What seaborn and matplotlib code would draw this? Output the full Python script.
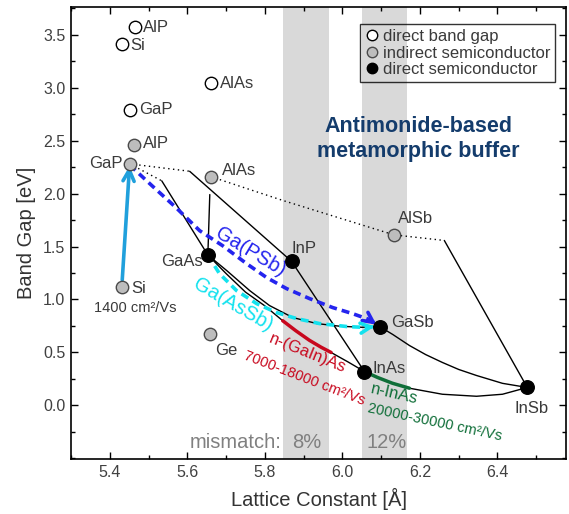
import matplotlib.pyplot as plt
import numpy as np
import pandas as pd
import seaborn as sns
from matplotlib.lines import Line2D
from matplotlib.ticker import MultipleLocator

# binaries: lattice constant [A] and band gap [eV]
open_names = ["AlP", "Si", "GaP", "AlAs"]
open_a = [5.464, 5.431, 5.451, 5.660]
open_eg = [3.57, 3.41, 2.79, 3.04]

gray_names = ["AlP", "GaP", "AlAs", "Si", "Ge", "AlSb"]
gray_a = [5.462, 5.451, 5.660, 5.431, 5.658, 6.133]
gray_eg = [2.46, 2.28, 2.16, 1.12, 0.67, 1.61]

black_names = ["GaAs", "InP", "GaSb", "InAs", "InSb"]
black_a = [5.653, 5.869, 6.096, 6.057, 6.477]
black_eg = [1.42, 1.36, 0.745, 0.32, 0.17]

# ternary lines
gaasp_dot_a = [5.451, 5.534]
gaasp_dot_eg = [2.28, 2.12]
gaasp_a = [5.534, 5.653]
gaasp_eg = [2.12, 1.42]
gainp_dot_a = [5.451, 5.606]
gainp_dot_eg = [2.28, 2.21]
gainp_a = [5.606, 5.869]
gainp_eg = [2.21, 1.36]
inasp_a = [5.869, 6.057]
inasp_eg = [1.36, 0.32]
algaas_a = [5.658, 5.653]
algaas_eg = [1.99, 1.42]
alassb_dot_a = [5.660, 5.846, 6.133, 6.263]
alassb_dot_eg = [2.16, 1.935, 1.61, 1.557]
alinsb_a = [6.263, 6.477]
alinsb_eg = [1.557, 0.17]

gaassb_a = [5.653, 5.702, 5.761, 5.812, 5.872, 5.934, 5.993, 6.050, 6.096]
gaassb_eg = [1.42, 1.272, 1.084, 0.943, 0.83, 0.773, 0.748, 0.738, 0.745]
gainas_a = [5.653, 5.700, 5.750, 5.800, 5.846, 5.880, 5.915, 5.945, 5.971, 6.015, 6.057]
gainas_eg = [1.42, 1.245, 1.07, 0.94, 0.80, 0.705, 0.615, 0.55, 0.50, 0.41, 0.32]
inassb_a = [6.057, 6.091, 6.129, 6.173, 6.258, 6.346, 6.413, 6.477]
inassb_eg = [0.32, 0.264, 0.21, 0.163, 0.106, 0.087, 0.106, 0.17]
gainsb_a = [6.096, 6.130, 6.173, 6.215, 6.258, 6.300, 6.346, 6.413, 6.477]
gainsb_eg = [0.745, 0.67, 0.566, 0.48, 0.406, 0.34, 0.283, 0.209, 0.17]

# highlighted high-mobility ranges
red_a = [5.846, 5.880, 5.915, 5.945, 5.971]
red_eg = [0.80, 0.705, 0.615, 0.55, 0.50]
green_a = [6.057, 6.091, 6.129, 6.173]
green_eg = [0.32, 0.264, 0.21, 0.163]

# buffer paths
gapsb_a = [5.451, 5.51, 5.57, 5.632, 5.691, 5.753, 5.805, 5.856, 5.915, 5.975, 6.026, 6.070, 6.088]
gapsb_eg = [2.27, 2.07, 1.87, 1.649, 1.508, 1.338, 1.206, 1.103, 1.009, 0.924, 0.867, 0.81, 0.763]
cyan_a = [5.653, 5.683, 5.727, 5.779, 5.830, 5.882, 5.941, 6.011, 6.062, 6.083]
cyan_eg = [1.42, 1.244, 1.084, 0.961, 0.877, 0.82, 0.773, 0.745, 0.736, 0.745]

# lattice mismatch bands
band_8 = [5.848, 5.965]
band_12 = [6.050, 6.168]

sns.set_theme(style="ticks")
plt.rcParams["font.family"] = ["Liberation Sans", "DejaVu Sans"]

fig = plt.figure(figsize=(5.69, 5.14), dpi=100)
ax = fig.add_axes([0.1248, 0.107, 0.870, 0.8794])

ax.axvspan(*band_8, color="#d9d9d9", lw=0, zorder=0)
ax.axvspan(*band_12, color="#d9d9d9", lw=0, zorder=0)

dot = (0, (1, 2.5))
for xs, ys, ls in [
    (gaasp_dot_a, gaasp_dot_eg, dot),
    (gainp_dot_a, gainp_dot_eg, dot),
    (alassb_dot_a, alassb_dot_eg, dot),
    (gaasp_a, gaasp_eg, "-"),
    (gainp_a, gainp_eg, "-"),
    (inasp_a, inasp_eg, "-"),
    (algaas_a, algaas_eg, "-"),
    (alinsb_a, alinsb_eg, "-"),
    (gaassb_a, gaassb_eg, "-"),
    (gainas_a, gainas_eg, "-"),
    (inassb_a, inassb_eg, "-"),
    (gainsb_a, gainsb_eg, "-"),
]:
    sns.lineplot(x=xs, y=ys, sort=False, estimator=None, color="black",
                 lw=1.0, linestyle=ls, ax=ax, zorder=2)

sns.lineplot(x=red_a, y=red_eg, sort=False, estimator=None, color="#c8081e",
             lw=2.5, ax=ax, zorder=3)
sns.lineplot(x=green_a, y=green_eg, sort=False, estimator=None, color="#0f6e38",
             lw=2.5, ax=ax, zorder=3)

blue = "#2424ee"
cyan = "#14e2ee"
sns.lineplot(x=gapsb_a, y=gapsb_eg, sort=False, estimator=None, color=blue,
             lw=2.6, linestyle=(0, (2.2, 1.4)), ax=ax, zorder=4)
sns.lineplot(x=cyan_a, y=cyan_eg, sort=False, estimator=None, color=cyan,
             lw=2.6, linestyle=(0, (2.2, 1.4)), ax=ax, zorder=4)
for xs, ys, c in [(gapsb_a, gapsb_eg, blue), (cyan_a, cyan_eg, cyan)]:
    ax.annotate("", xy=(xs[-1], ys[-1]), xytext=(xs[-2], ys[-2]),
                arrowprops=dict(arrowstyle="->", color=c, lw=2.6,
                                mutation_scale=18, shrinkA=0, shrinkB=0),
                zorder=4)

# Si -> GaP arrow
ax.annotate("", xy=(gray_a[1], gray_eg[1] - 0.02), xytext=(gray_a[3], gray_eg[3]),
            arrowprops=dict(arrowstyle="->", color="#20a0dc", lw=2.6,
                            mutation_scale=20, shrinkA=5, shrinkB=0),
            zorder=5)

sns.scatterplot(x=open_a, y=open_eg, s=80, color="white", edgecolor="black",
                linewidth=1.0, ax=ax, zorder=6)
sns.scatterplot(x=gray_a, y=gray_eg, s=80, color="#bdbdbd", edgecolor="#4a4a4a",
                linewidth=1.0, ax=ax, zorder=6)
sns.scatterplot(x=black_a, y=black_eg, s=95, color="black", edgecolor="black",
                linewidth=1.0, ax=ax, zorder=6)

label_color = "#3a3a3a"
open_off = [(6, 0, "left"), (6, -1, "left"), (7, 0, "left"), (7, 0, "left")]
gray_off = [(6.5, 1, "left"), (-5, 0, "right"), (8, 4.5, "left"),
            (7, -1, "left"), (3.5, -11.5, "left"), (3, 12, "left")]
black_off = [(-3.5, -4.5, "right"), (0, 9.5, "left"), (8, 3, "left"),
             (6, 2, "left"), (3, -15, "center")]
for names, xs, ys, offs in [(open_names, open_a, open_eg, open_off),
                            (gray_names, gray_a, gray_eg, gray_off),
                            (black_names, black_a, black_eg, black_off)]:
    for n, x, y, (dx, dy, ha) in zip(names, xs, ys, offs):
        ax.annotate(n, (x, y), xytext=(dx, dy), textcoords="offset points",
                    ha=ha, va="center", fontsize=12, color=label_color, zorder=7)

ax.annotate("1400 cm²/Vs", (gray_a[3], gray_eg[3]), xytext=(10, -15),
            textcoords="offset points", ha="center", va="center",
            fontsize=10.5, color=label_color)

ax.text(5.763, 1.444, "Ga(PSb)", color=blue, fontsize=14.5, rotation=-31,
        ha="center", va="center", rotation_mode="anchor")
ax.text(5.718, 0.952, "Ga(AsSb)", color=cyan, fontsize=14.5, rotation=-30,
        ha="center", va="center", rotation_mode="anchor")
ax.text(5.911, 0.495, "n-(GaIn)As", color="#c8081e", fontsize=12, rotation=-22,
        ha="center", va="center", rotation_mode="anchor")
ax.text(5.903, 0.26, "7000-18000 cm²/Vs", color="#c8081e", fontsize=10.5,
        rotation=-21, ha="center", va="center", rotation_mode="anchor")
ax.text(6.135, 0.11, "n-InAs", color="#0f6e38", fontsize=12, rotation=-13,
        ha="center", va="center", rotation_mode="anchor")
ax.text(6.238, -0.16, "20000-30000 cm²/Vs", color="#0f6e38", fontsize=10.5,
        rotation=-12, ha="center", va="center", rotation_mode="anchor")

ax.text(5.725, -0.35, "mismatch:", color="#808080", fontsize=14.5,
        ha="center", va="center")
ax.text(5.908, -0.35, "8%", color="#808080", fontsize=14.5, ha="center", va="center")
ax.text(6.114, -0.35, "12%", color="#808080", fontsize=14.5, ha="center", va="center")

ax.text(6.196, 2.51, "Antimonide-based\nmetamorphic buffer", color="#143c6c",
        fontsize=15.5, fontweight="bold", ha="center", va="center", linespacing=1.25)

handles = [
    Line2D([], [], ls="", marker="o", ms=7.5, mfc="white", mec="black", mew=1.0),
    Line2D([], [], ls="", marker="o", ms=7.5, mfc="#bdbdbd", mec="#4a4a4a", mew=1.0),
    Line2D([], [], ls="", marker="o", ms=7.5, mfc="black", mec="black", mew=1.0),
]
leg = ax.legend(handles, ["direct band gap", "indirect semiconductor",
                          "direct semiconductor"],
                loc="upper right", bbox_to_anchor=(0.978, 0.962), borderaxespad=0,
                fontsize=12, handlelength=0.8, handletextpad=0.25,
                labelspacing=0.08, borderpad=0.3, fancybox=False,
                frameon=True, edgecolor="black", facecolor="none")
leg.get_frame().set_linewidth(1.0)
for t in leg.get_texts():
    t.set_color(label_color)

ax.set_xlim(5.3, 6.577)
ax.set_ylim(-0.505, 3.76)
ax.xaxis.set_major_locator(MultipleLocator(0.2))
ax.xaxis.set_minor_locator(MultipleLocator(0.1))
ax.set_yticks(np.arange(0, 3.6, 0.5))
ax.yaxis.set_minor_locator(MultipleLocator(0.25))
ax.tick_params(which="both", direction="in", top=True, right=True,
               colors="black", labelcolor="#404040", labelsize=11.5, width=1.0, pad=4)
ax.tick_params(which="major", length=5)
ax.tick_params(which="minor", length=3)
for s in ax.spines.values():
    s.set_color("black")
    s.set_linewidth(1.2)

ax.set_xlabel("Lattice Constant [Å]", fontsize=14.5, color="#333333", labelpad=6)
ax.set_ylabel("Band Gap [eV]", fontsize=14.5, color="#333333", labelpad=5)

fig.savefig("out.png", dpi=100)
